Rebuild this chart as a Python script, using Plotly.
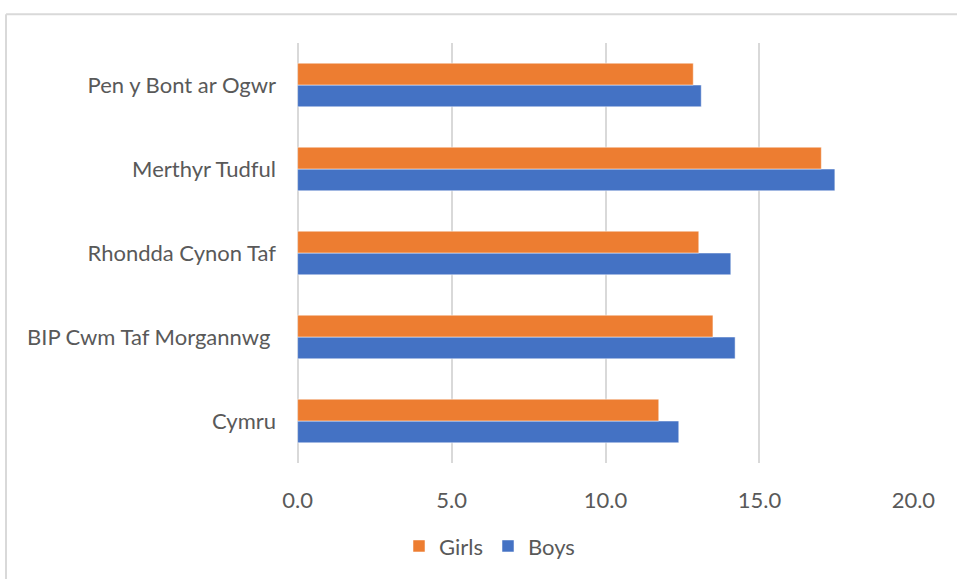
import plotly.graph_objects as go

categories = ["Cymru", "BIP Cwm Taf Morgannwg ", "Rhondda Cynon Taf", "Merthyr Tudful", "Pen y Bont ar Ogwr"]
girls = [11.73, 13.49, 13.03, 17.01, 12.85]
boys = [12.38, 14.21, 14.07, 17.45, 13.11]
x_ticks = [0, 5, 10, 15, 20]
x_tick_labels = ["0.0", "5.0", "10.0", "15.0", "20.0"]

FONT = "Lato, Carlito, Calibri, sans-serif"
GRID = "#d9d9d9"

fig = go.Figure()
fig.add_trace(go.Bar(y=categories, x=boys, name="Boys", orientation="h",
                     marker=dict(color="#4472C4", line=dict(color="rgba(255,255,255,0.5)", width=1))))
fig.add_trace(go.Bar(y=categories, x=girls, name="Girls", orientation="h",
                     marker=dict(color="#ED7D31", line=dict(color="rgba(255,255,255,0.5)", width=1))))

fig.update_layout(
    width=957, height=579,
    margin=dict(l=297, r=43, t=43, b=112),
    paper_bgcolor="white", plot_bgcolor="white",
    barmode="group", bargap=0.48, bargroupgap=0,
    font=dict(family=FONT, size=22, color="#595959"),
    showlegend=True,
    legend=dict(orientation="h", traceorder="reversed", x=0.312, y=-0.198,
                xanchor="center", yanchor="middle", font=dict(size=22, color="#595959"),
                itemwidth=30),
    xaxis=dict(range=[-0.02, 20.02], tickvals=x_ticks, ticktext=x_tick_labels,
               showgrid=True, gridcolor=GRID, gridwidth=2,
               zeroline=True, zerolinecolor=GRID, zerolinewidth=2,
               showline=False, ticks="", ticklabelstandoff=22,
               tickfont=dict(size=22, color="#595959", family=FONT)),
    yaxis=dict(range=[-0.5, 4.5], showgrid=False, zeroline=False, showline=False,
               ticks="", ticklabelstandoff=20,
               tickfont=dict(size=22, color="#595959", family=FONT)),
    shapes=[
        dict(type="line", xref="paper", yref="paper", x0=-0.4716, x1=1.2, y0=1.0684, y1=1.0684,
             line=dict(color=GRID, width=2)),
        dict(type="line", xref="paper", yref="paper", x0=-0.4716, x1=-0.4716, y0=1.0684, y1=-0.4,
             line=dict(color=GRID, width=2)),
    ],
)

fig.write_html("out.html", config={"displayModeBar": False},
               post_script="document.body.style.margin='0';document.body.style.overflow='hidden';")
